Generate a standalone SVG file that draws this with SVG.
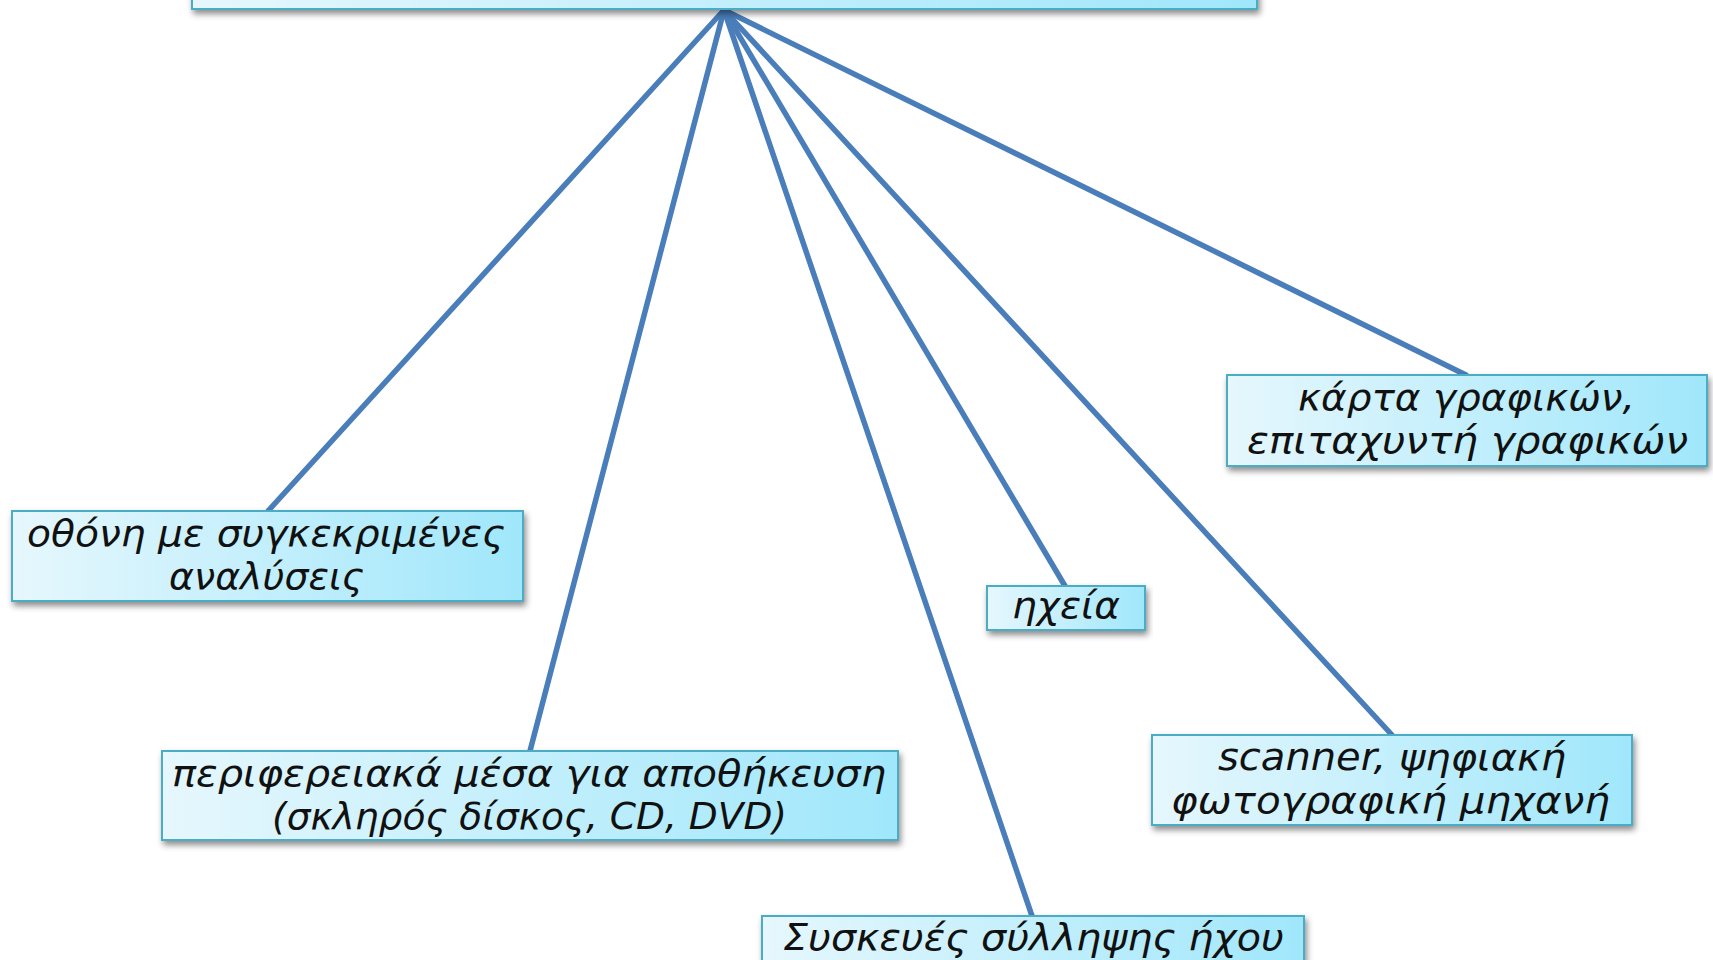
<svg xmlns="http://www.w3.org/2000/svg" width="1713" height="960" viewBox="0 0 1713 960">
<defs>
<linearGradient id="g" x1="0" y1="0" x2="1" y2="0">
<stop offset="0" stop-color="#e6f7fd"/>
<stop offset="1" stop-color="#a0e7fb"/>
</linearGradient>
<filter id="sh" x="-5%" y="-20%" width="110%" height="150%">
<feDropShadow dx="2" dy="4" stdDeviation="3" flood-color="#000" flood-opacity="0.45"/>
</filter>
<style>
.box{fill:url(#g);stroke:#4bacc6;stroke-width:2;filter:url(#sh)}
.t{font-family:"DejaVu Sans","Noto Sans",sans-serif;font-size:38px;fill:#111;font-style:italic}
.c{stroke:#4a7ebb;stroke-width:5.5;fill:none;stroke-linecap:round}
</style>
</defs>
<rect width="1713" height="960" fill="#fff"/>
<g id="connectors">
<line class="c" x1="724" y1="10" x2="268" y2="511"/>
<line class="c" x1="724" y1="10" x2="530" y2="751"/>
<line class="c" x1="724" y1="10" x2="1032" y2="916"/>
<line class="c" x1="724" y1="10" x2="1065" y2="586"/>
<line class="c" x1="724" y1="10" x2="1392" y2="735"/>
<line class="c" x1="724" y1="10" x2="1466" y2="375"/>
</g>
<g id="root">
<rect class="box" x="192" y="-60" width="1065" height="69"/>
</g>
<g id="n-screen">
<rect class="box" x="12" y="511" width="511" height="90"/>
<text class="t" x="27" y="546" textLength="478" lengthAdjust="spacingAndGlyphs">οθόνη με συγκεκριμένες</text>
<text class="t" x="169" y="589" textLength="195" lengthAdjust="spacingAndGlyphs">αναλύσεις</text>
</g>
<g id="n-storage">
<rect class="box" x="162" y="751" width="736" height="89"/>
<text class="t" x="172" y="786" textLength="714" lengthAdjust="spacingAndGlyphs">περιφερειακά μέσα για αποθήκευση</text>
<text class="t" x="272" y="829" textLength="515" lengthAdjust="spacingAndGlyphs">(σκληρός δίσκος, CD, DVD)</text>
</g>
<g id="n-audio-capture">
<rect class="box" x="762" y="916" width="542" height="60"/>
<text class="t" x="783" y="950" textLength="501" lengthAdjust="spacingAndGlyphs">Συσκευές σύλληψης ήχου</text>
</g>
<g id="n-speakers">
<rect class="box" x="987" y="586" width="158" height="44"/>
<text class="t" x="1012" y="618" textLength="108" lengthAdjust="spacingAndGlyphs">ηχεία</text>
</g>
<g id="n-scanner">
<rect class="box" x="1152" y="735" width="480" height="90"/>
<text class="t" x="1218" y="770" textLength="348" lengthAdjust="spacingAndGlyphs">scanner, ψηφιακή</text>
<text class="t" x="1171" y="813" textLength="439" lengthAdjust="spacingAndGlyphs">φωτογραφική μηχανή</text>
</g>
<g id="n-graphics">
<rect class="box" x="1227" y="375" width="480" height="91"/>
<text class="t" x="1298" y="410" textLength="337" lengthAdjust="spacingAndGlyphs">κάρτα γραφικών,</text>
<text class="t" x="1247" y="453" textLength="441" lengthAdjust="spacingAndGlyphs">επιταχυντή γραφικών</text>
</g>
</svg>
